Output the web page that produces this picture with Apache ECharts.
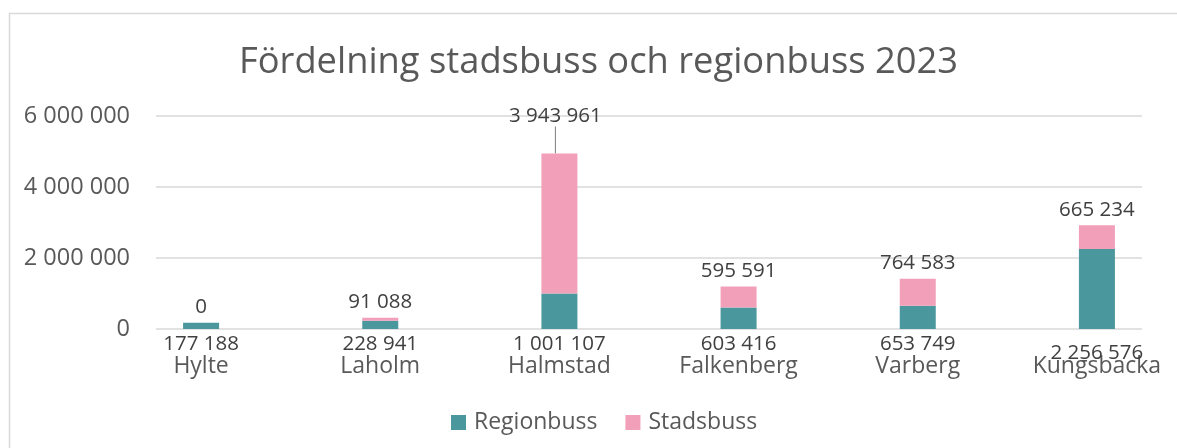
<!DOCTYPE html>
<html>
<head>
<meta charset="utf-8">
<script src="https://cdn.jsdelivr.net/npm/echarts@6/dist/echarts.min.js"></script>
<style>
html, body { margin: 0; padding: 0; background: #fff; }
#chart { width: 1177px; height: 448px; }
</style>
</head>
<body>
<div id="chart"></div>
<script>
var kommuner = ['Hylte', 'Laholm', 'Halmstad', 'Falkenberg', 'Varberg', 'Kungsbacka'];
var regionbuss = [177188, 228941, 1001107, 603416, 653749, 2256576];
var stadsbuss = [0, 91088, 3943961, 595591, 764583, 665234];
var yTicks = [0, 2000000, 4000000, 6000000];

var textColor = '#595959';
var fontName = '"Open Sans", "Noto Sans", sans-serif';

// tusental med mellanslag
function fmt(v) {
    return String(v).replace(/\B(?=(\d{3})+(?!\d))/g, ' ');
}

var yMin = yTicks[0];
var yMax = yTicks[yTicks.length - 1];
var yStep = yTicks[1] - yTicks[0];

var option = {
    animation: false,
    textStyle: { fontFamily: fontName },
    title: {
        text: 'Fördelning stadsbuss och regionbuss 2023',
        left: 234,
        top: 40,
        textStyle: { color: textColor, fontSize: 36.3, fontWeight: 'normal', fontFamily: fontName }
    },
    graphic: [{
        type: 'rect',
        silent: true,
        shape: { x: 9.5, y: 13.5, width: 1300, height: 600 },
        style: { fill: 'none', stroke: '#d9d9d9', lineWidth: 1.5 }
    }],
    legend: {
        bottom: 9,
        left: 446,
        itemWidth: 15,
        itemHeight: 15,
        itemGap: 28,
        icon: 'rect',
        textStyle: { color: textColor, fontSize: 23, fontFamily: fontName, padding: [0, 0, 0, 3] },
        data: ['Regionbuss', 'Stadsbuss']
    },
    grid: [
        // staplarna
        { left: 111.5, width: 1075, top: 116, height: 213, outerBoundsMode: 'none' },
        // stödlinjer och y-etiketter
        { left: 156, right: 35, top: 116, height: 213, outerBoundsMode: 'none' }
    ],
    xAxis: [{
        type: 'category',
        gridIndex: 0,
        data: kommuner,
        axisLine: { show: false },
        axisTick: { show: false },
        axisLabel: { color: textColor, fontSize: 23, margin: 26, fontFamily: fontName }
    }, {
        type: 'value',
        gridIndex: 1,
        show: false
    }],
    yAxis: [{
        type: 'value',
        gridIndex: 0,
        min: yMin, max: yMax, interval: yStep,
        show: false
    }, {
        type: 'value',
        gridIndex: 1,
        min: yMin, max: yMax, interval: yStep,
        axisLine: { show: false },
        axisTick: { show: false },
        splitLine: { lineStyle: { color: '#d9d9d9', width: 1.5 } },
        axisLabel: {
            color: textColor, fontSize: 23.5, margin: 26, fontFamily: fontName,
            formatter: fmt
        }
    }],
    series: [{
        name: 'Regionbuss',
        type: 'bar',
        stack: 'total',
        xAxisIndex: 0,
        yAxisIndex: 0,
        barWidth: 36,
        itemStyle: { color: '#4a979e' },
        label: {
            show: true,
            position: 'bottom',
            distance: 5,
            color: '#404040',
            fontSize: 20.5,
            fontFamily: fontName,
            formatter: function(p) { return fmt(p.value); }
        },
        data: regionbuss.map(function(v, i) {
            if (i === 5) return { value: v, label: { offset: [0, 9] } };
            return v;
        })
    }, {
        name: 'Stadsbuss',
        type: 'bar',
        stack: 'total',
        xAxisIndex: 0,
        yAxisIndex: 0,
        barWidth: 36,
        itemStyle: { color: '#f29fba' },
        label: {
            show: true,
            position: 'top',
            distance: 5,
            color: '#404040',
            fontSize: 20.5,
            fontFamily: fontName,
            formatter: function(p) { return fmt(p.value); }
        },
        labelLine: { show: false, lineStyle: { color: '#7f7f7f', width: 1 } },
        labelLayout: function(params) {
            if (params.dataIndex === 2) return { dx: -4, dy: -22 };
        },
        data: stadsbuss.map(function(v, i) {
            if (i === 2) return { value: v, labelLine: { show: true } };
            return v;
        })
    }]
};

echarts.init(document.getElementById('chart')).setOption(option);
</script>
</body>
</html>
